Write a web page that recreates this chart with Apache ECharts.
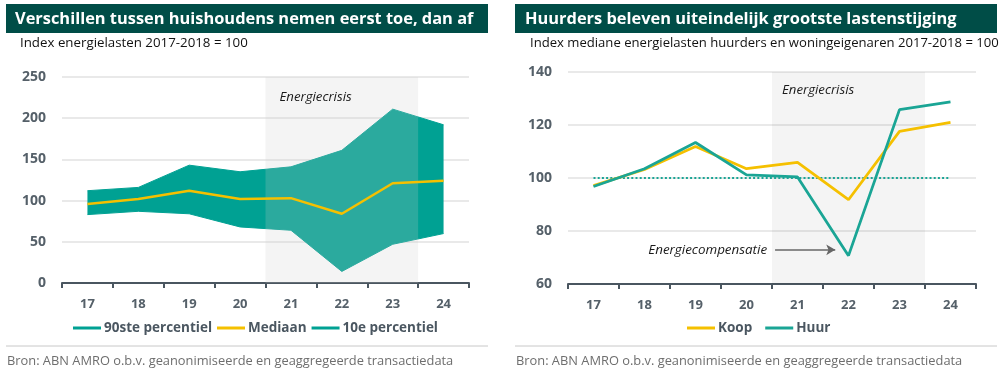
<!DOCTYPE html>
<html><head><meta charset="utf-8">
<script src="https://cdn.jsdelivr.net/npm/echarts@6/dist/echarts.min.js"></script>
<style>html,body{margin:0;padding:0;background:#fff}#c{width:1003px;height:372px}</style>
</head><body><div id="c"></div>
<script>
// ---- data ----
const years = ['17','18','19','20','21','22','23','24'];
const p90 = [112, 116, 143, 135, 141, 161, 211, 192];
const mediaan = [96, 102, 112, 102, 103, 84, 121, 124];
const p10 = [83, 87, 84, 68, 64, 14, 47, 60];
const koop = [97.1, 103.2, 111.9, 103.5, 105.9, 91.8, 117.6, 121.0];
const huur = [96.8, 103.5, 113.4, 101.2, 100.4, 70.7, 125.8, 128.7];
const basis = [100, 100, 100, 100, 100, 100, 100, 100];
const crisis = [20.5, 23.5];          // category-position span of the Energiecrisis period
const compArrow = [[20.56, 72.9], [21.74, 72.9]]; // arrow annotation in data units (right chart)
const leftTicks = [0, 250, 50];
const rightTicks = [60, 140, 20];

const TEAL = '#00A193', TEALLINE = '#1AA595', YELLOW = '#F5C000', DARK = '#004D47';
const AXC = '#4A5660', LBL = '#556069';
const font = '"Open Sans", sans-serif';

const band = p90.map((v, i) => v - p10[i]);

const chart = echarts.init(document.getElementById('c'), null, {renderer: 'canvas'});

function catAxis(grid) {
  return {
    type: 'category', gridIndex: grid, data: years, boundaryGap: true,
    axisLine: {lineStyle: {color: AXC, width: 2}},
    axisTick: {show: true, length: 5, lineStyle: {color: AXC, width: 2}},
    axisLabel: {color: LBL, fontFamily: font, fontWeight: 'bold', fontSize: 13, margin: 15},
    splitLine: {show: false}
  };
}
function helperX(grid) {
  return {type: 'value', gridIndex: grid, min: 16.5, max: 24.5, show: false, splitLine: {show: false}};
}
function valAxis(grid, t) {
  return {
    type: 'value', gridIndex: grid, min: t[0], max: t[1], interval: t[2],
    axisLine: {show: false}, axisTick: {show: false},
    axisLabel: {color: LBL, fontFamily: font, fontWeight: 'bold', fontSize: 14, margin: 16},
    splitLine: {lineStyle: {color: '#E2E2E2', width: 1.5}}
  };
}
const crisisLabel = (dx, dy) => ({
  show: true, formatter: 'Energiecrisis', position: [dx, dy], align: 'left', verticalAlign: 'top',
  color: '#1a1a1a', fontFamily: font, fontStyle: 'italic', fontSize: 13.2
});

chart.setOption({
  animation: false,
  textStyle: {fontFamily: font},
  grid: [
    {left: 62, right: 534, top: 77, bottom: 89, containLabel: false},
    {left: 568, right: 27, top: 72, bottom: 88, containLabel: false}
  ],
  xAxis: [catAxis(0), helperX(0), catAxis(1), helperX(1)],
  yAxis: [valAxis(0, leftTicks), valAxis(1, rightTicks)],
  legend: [
    {
      left: 68, top: 316, icon: 'rect', itemWidth: 28, itemHeight: 3, itemGap: 5,
      textStyle: {color: AXC, fontFamily: font, fontWeight: 'bold', fontSize: 13.5, padding: [0, 0, 0, -2]},
      data: [
        {name: '90ste percentiel', itemStyle: {color: TEAL}},
        {name: 'Mediaan', itemStyle: {color: YELLOW}},
        {name: '10e percentiel', itemStyle: {color: TEAL}}
      ]
    },
    {
      left: 682, top: 316, icon: 'rect', itemWidth: 28, itemHeight: 3, itemGap: 13,
      textStyle: {color: AXC, fontFamily: font, fontWeight: 'bold', fontSize: 13.5, padding: [0, 0, 0, -2]},
      data: [
        {name: 'Koop', itemStyle: {color: YELLOW}},
        {name: 'Huur', itemStyle: {color: TEALLINE}}
      ]
    }
  ],
  series: [
    // ---- left chart ----
    {
      name: '10e percentiel', type: 'line', xAxisIndex: 0, yAxisIndex: 0, data: p10, stack: 'band',
      symbol: 'none', color: TEAL, lineStyle: {color: TEAL, width: 1}, z: 2
    },
    {
      name: '90ste percentiel', type: 'line', xAxisIndex: 0, yAxisIndex: 0, data: band, stack: 'band',
      symbol: 'none', color: TEAL, lineStyle: {color: TEAL, width: 1},
      areaStyle: {color: TEAL, opacity: 1}, z: 2
    },
    {
      name: 'crisisL', type: 'line', xAxisIndex: 1, yAxisIndex: 0, data: [],
      markArea: {
        silent: true, z: 3,
        itemStyle: {color: 'rgba(202,202,202,0.21)'},
        label: crisisLabel(14, 14),
        data: [[{xAxis: crisis[0]}, {xAxis: crisis[1]}]]
      }
    },
    {
      name: 'Mediaan', type: 'line', xAxisIndex: 0, yAxisIndex: 0, data: mediaan,
      symbol: 'none', color: YELLOW, lineStyle: {color: YELLOW, width: 2.5}, z: 5
    },
    // ---- right chart ----
    {
      name: 'crisisR', type: 'line', xAxisIndex: 3, yAxisIndex: 1, data: [],
      markArea: {
        silent: true, z: 1,
        itemStyle: {color: 'rgba(0,0,0,0.043)'},
        label: crisisLabel(10, 12),
        data: [[{xAxis: crisis[0]}, {xAxis: crisis[1]}]]
      },
      markLine: {
        silent: true, symbol: ['none', 'arrow'], symbolSize: [8, 9],
        lineStyle: {color: '#666', width: 1.5, type: 'solid'},
        label: {show: true, position: 'start', distance: 8, formatter: 'Energiecompensatie',
          color: '#1a1a1a', fontFamily: font, fontStyle: 'italic', fontSize: 13.4},
        data: [[{coord: compArrow[0]}, {coord: compArrow[1]}]]
      }
    },
    {
      name: 'basis', type: 'line', xAxisIndex: 2, yAxisIndex: 1, data: basis,
      symbol: 'none', lineStyle: {color: TEALLINE, width: 2, type: [2, 2.2]}, z: 2
    },
    {
      name: 'Koop', type: 'line', xAxisIndex: 2, yAxisIndex: 1, data: koop,
      symbol: 'none', color: YELLOW, lineStyle: {color: YELLOW, width: 2.8}, z: 3
    },
    {
      name: 'Huur', type: 'line', xAxisIndex: 2, yAxisIndex: 1, data: huur,
      symbol: 'none', color: TEALLINE, lineStyle: {color: TEALLINE, width: 2.8}, z: 4
    }
  ],
  graphic: [
    {type: 'rect', shape: {x: 6, y: 4, width: 482, height: 29}, style: {fill: DARK}, silent: true},
    {type: 'rect', shape: {x: 515, y: 4, width: 482, height: 29}, style: {fill: DARK}, silent: true},
    {type: 'text', x: 15, y: 19, style: {text: 'Verschillen tussen huishoudens nemen eerst toe, dan af',
      fill: '#fff', font: 'bold 16.4px "Open Sans", sans-serif', textVerticalAlign: 'middle'}},
    {type: 'text', x: 525, y: 19, style: {text: 'Huurders beleven uiteindelijk grootste lastenstijging',
      fill: '#fff', font: 'bold 16.4px "Open Sans", sans-serif', textVerticalAlign: 'middle'}},
    {type: 'text', x: 20, y: 43, style: {text: 'Index energielasten 2017-2018 = 100',
      fill: '#111', font: '13.3px "Open Sans", sans-serif', textVerticalAlign: 'middle'}},
    {type: 'text', x: 530, y: 43, style: {text: 'Index mediane energielasten huurders en woningeigenaren 2017-2018 = 100',
      fill: '#111', font: '13.1px "Open Sans", sans-serif', textVerticalAlign: 'middle'}},
    {type: 'line', shape: {x1: 6, y1: 346, x2: 488, y2: 346}, style: {stroke: '#C8C8C8', lineWidth: 1}},
    {type: 'line', shape: {x1: 515, y1: 346, x2: 997, y2: 346}, style: {stroke: '#C8C8C8', lineWidth: 1}},
    {type: 'text', x: 7, y: 361, style: {text: 'Bron: ABN AMRO o.b.v. geanonimiseerde en geaggregeerde transactiedata',
      fill: '#6E6E6E', font: '12.85px "Open Sans", sans-serif', textVerticalAlign: 'middle'}},
    {type: 'text', x: 516, y: 361, style: {text: 'Bron: ABN AMRO o.b.v. geanonimiseerde en geaggregeerde transactiedata',
      fill: '#6E6E6E', font: '12.85px "Open Sans", sans-serif', textVerticalAlign: 'middle'}}
  ]
});
</script></body></html>
